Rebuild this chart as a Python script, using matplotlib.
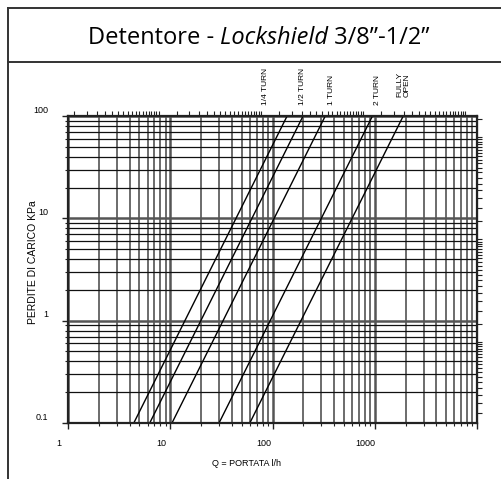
import numpy as np
import matplotlib
matplotlib.use('Agg')
import matplotlib.pyplot as plt
from matplotlib.ticker import LogLocator, NullFormatter, NullLocator
from matplotlib.lines import Line2D
from matplotlib.transforms import blended_transform_factory, offset_copy

# curves: flow (l/h) where each line meets 0.1 kPa and 100 kPa
curve_names = ['1/4 TURN', '1/2 TURN', '1 TURN', '2 TURN', 'FULLY\nOPEN']
q_at_low = [4.4, 6.3, 10.4, 30, 60]
q_at_high = [139, 199, 328, 950, 1900]
dp_ends = [0.1, 100]

x_ticks = [1, 10, 100, 1000]
x_tick_labels = ['1', '10', '100', '1000']
y_ticks = [0.1, 1, 10, 100]
y_tick_labels = ['0.1', '1', '10', '100']

plt.rcParams['font.family'] = ['Liberation Sans', 'DejaVu Sans']

W, H = 501, 479
fig = plt.figure(figsize=(W / 100, H / 100), dpi=100)
ax = fig.add_axes([68 / W, 1 - 423 / H, (477 - 68) / W, (423 - 116) / H])

ax.set_xscale('log')
ax.set_yscale('log')
ax.set_xlim(1, 10000)
ax.set_ylim(0.1, 100)

# grid
ax.set_axisbelow(True)
ax.xaxis.grid(True, which='major', color='#555555', lw=1.8)
ax.xaxis.grid(True, which='minor', color='#444444', lw=1.1)
ax.yaxis.grid(True, which='major', color='#555555', lw=1.8)
ax.yaxis.grid(True, which='minor', color='#111111', lw=0.9)

ax.xaxis.set_major_formatter(NullFormatter())
ax.xaxis.set_minor_formatter(NullFormatter())
ax.yaxis.set_major_formatter(NullFormatter())
ax.yaxis.set_minor_formatter(NullFormatter())
ax.tick_params(which='major', direction='out', length=4, width=1, color='#222222')
ax.tick_params(which='minor', direction='out', length=2.2, width=0.8, color='#222222')
for sp in ax.spines.values():
    sp.set_linewidth(1.6)
    sp.set_color('#222222')

# pressure drop lines
for ql, qh in zip(q_at_low, q_at_high):
    ax.plot([ql, qh], dp_ends, color='black', lw=1.0, solid_capstyle='butt')

# line labels above the top axis
lab_dx = [-22, -1, 6, 5, 0]
lab_dy = [11, 11, 11, 11, 19]
top_tr = blended_transform_factory(ax.transData, ax.transAxes)
for name, qh, dx, dy in zip(curve_names, q_at_high, lab_dx, lab_dy):
    ax.annotate(name, xy=(qh, 1), xycoords=top_tr, xytext=(dx, dy),
                textcoords='offset pixels', rotation=90, ha='center',
                va='bottom', multialignment='left', fontsize=6,
                linespacing=1.0, annotation_clip=False)

# extra scales ticked on top and right
secx = ax.secondary_xaxis('top', functions=(lambda x: x * 1.3, lambda x: x / 1.3))
secx.xaxis.set_major_locator(LogLocator(base=10, subs=np.arange(1, 10, 0.5), numticks=200))
secx.xaxis.set_minor_locator(NullLocator())
secx.xaxis.set_major_formatter(NullFormatter())
secx.tick_params(direction='out', length=3.5, width=0.8, color='#222222')
secy = ax.secondary_yaxis('right', functions=(lambda y: y * 1.6, lambda y: y / 1.6))
secy.yaxis.set_major_locator(LogLocator(base=10, subs=np.arange(1, 10, 0.5), numticks=200))
secy.yaxis.set_minor_locator(NullLocator())
secy.yaxis.set_major_formatter(NullFormatter())
secy.tick_params(direction='out', length=3.5, width=0.8, color='#222222')

# tick labels (slightly offset like the printed chart)
xl_tr = offset_copy(blended_transform_factory(ax.transData, ax.transAxes),
                    fig=fig, x=-9, y=-21, units='dots')
for v, s in zip(x_ticks, x_tick_labels):
    ax.text(v, 0, s, transform=xl_tr, ha='center', va='center', fontsize=6.5)
yl_tr = offset_copy(blended_transform_factory(ax.transAxes, ax.transData),
                    fig=fig, x=-20, y=6, units='dots')
for v, s in zip(y_ticks, y_tick_labels):
    ax.text(0, v, s, transform=yl_tr, ha='right', va='center', fontsize=6.5)

fig.text(33 / W, 1 - 262 / H, 'PERDITE DI CARICO KPa', rotation=90,
         ha='center', va='center', fontsize=7.5)
fig.text(247 / W, 1 - 463 / H, 'Q = PORTATA l/h', ha='center', va='center',
         fontsize=6.5)

# frame around title and chart
for xs, ys in [([8, W], [8, 8]), ([8, W], [62, 62]), ([8, 8], [8, H])]:
    fig.add_artist(Line2D([x / W for x in xs], [1 - y / H for y in ys],
                          color='#333333', lw=1.4))

# title with italic part
tfont = dict(family=['Open Sans', 'DejaVu Sans'], fontsize=17)
t1 = fig.text(0, 1 - 44 / H, 'Detentore - ', ha='left', va='baseline', **tfont)
t2 = ax.annotate('Lockshield', xy=(1, 0), xycoords=t1, ha='left', va='bottom',
                 style='italic', annotation_clip=False, **tfont)
t3 = ax.annotate(' 3/8\u201d-1/2\u201d', xy=(1, 0), xycoords=t2, ha='left',
                 va='bottom', annotation_clip=False, **tfont)
fig.canvas.draw()
r = fig.canvas.get_renderer()
total = sum(t.get_window_extent(r).width for t in (t1, t2, t3))
t1.set_x((259 - total / 2) / W)

fig.savefig('out.png', dpi=100)
